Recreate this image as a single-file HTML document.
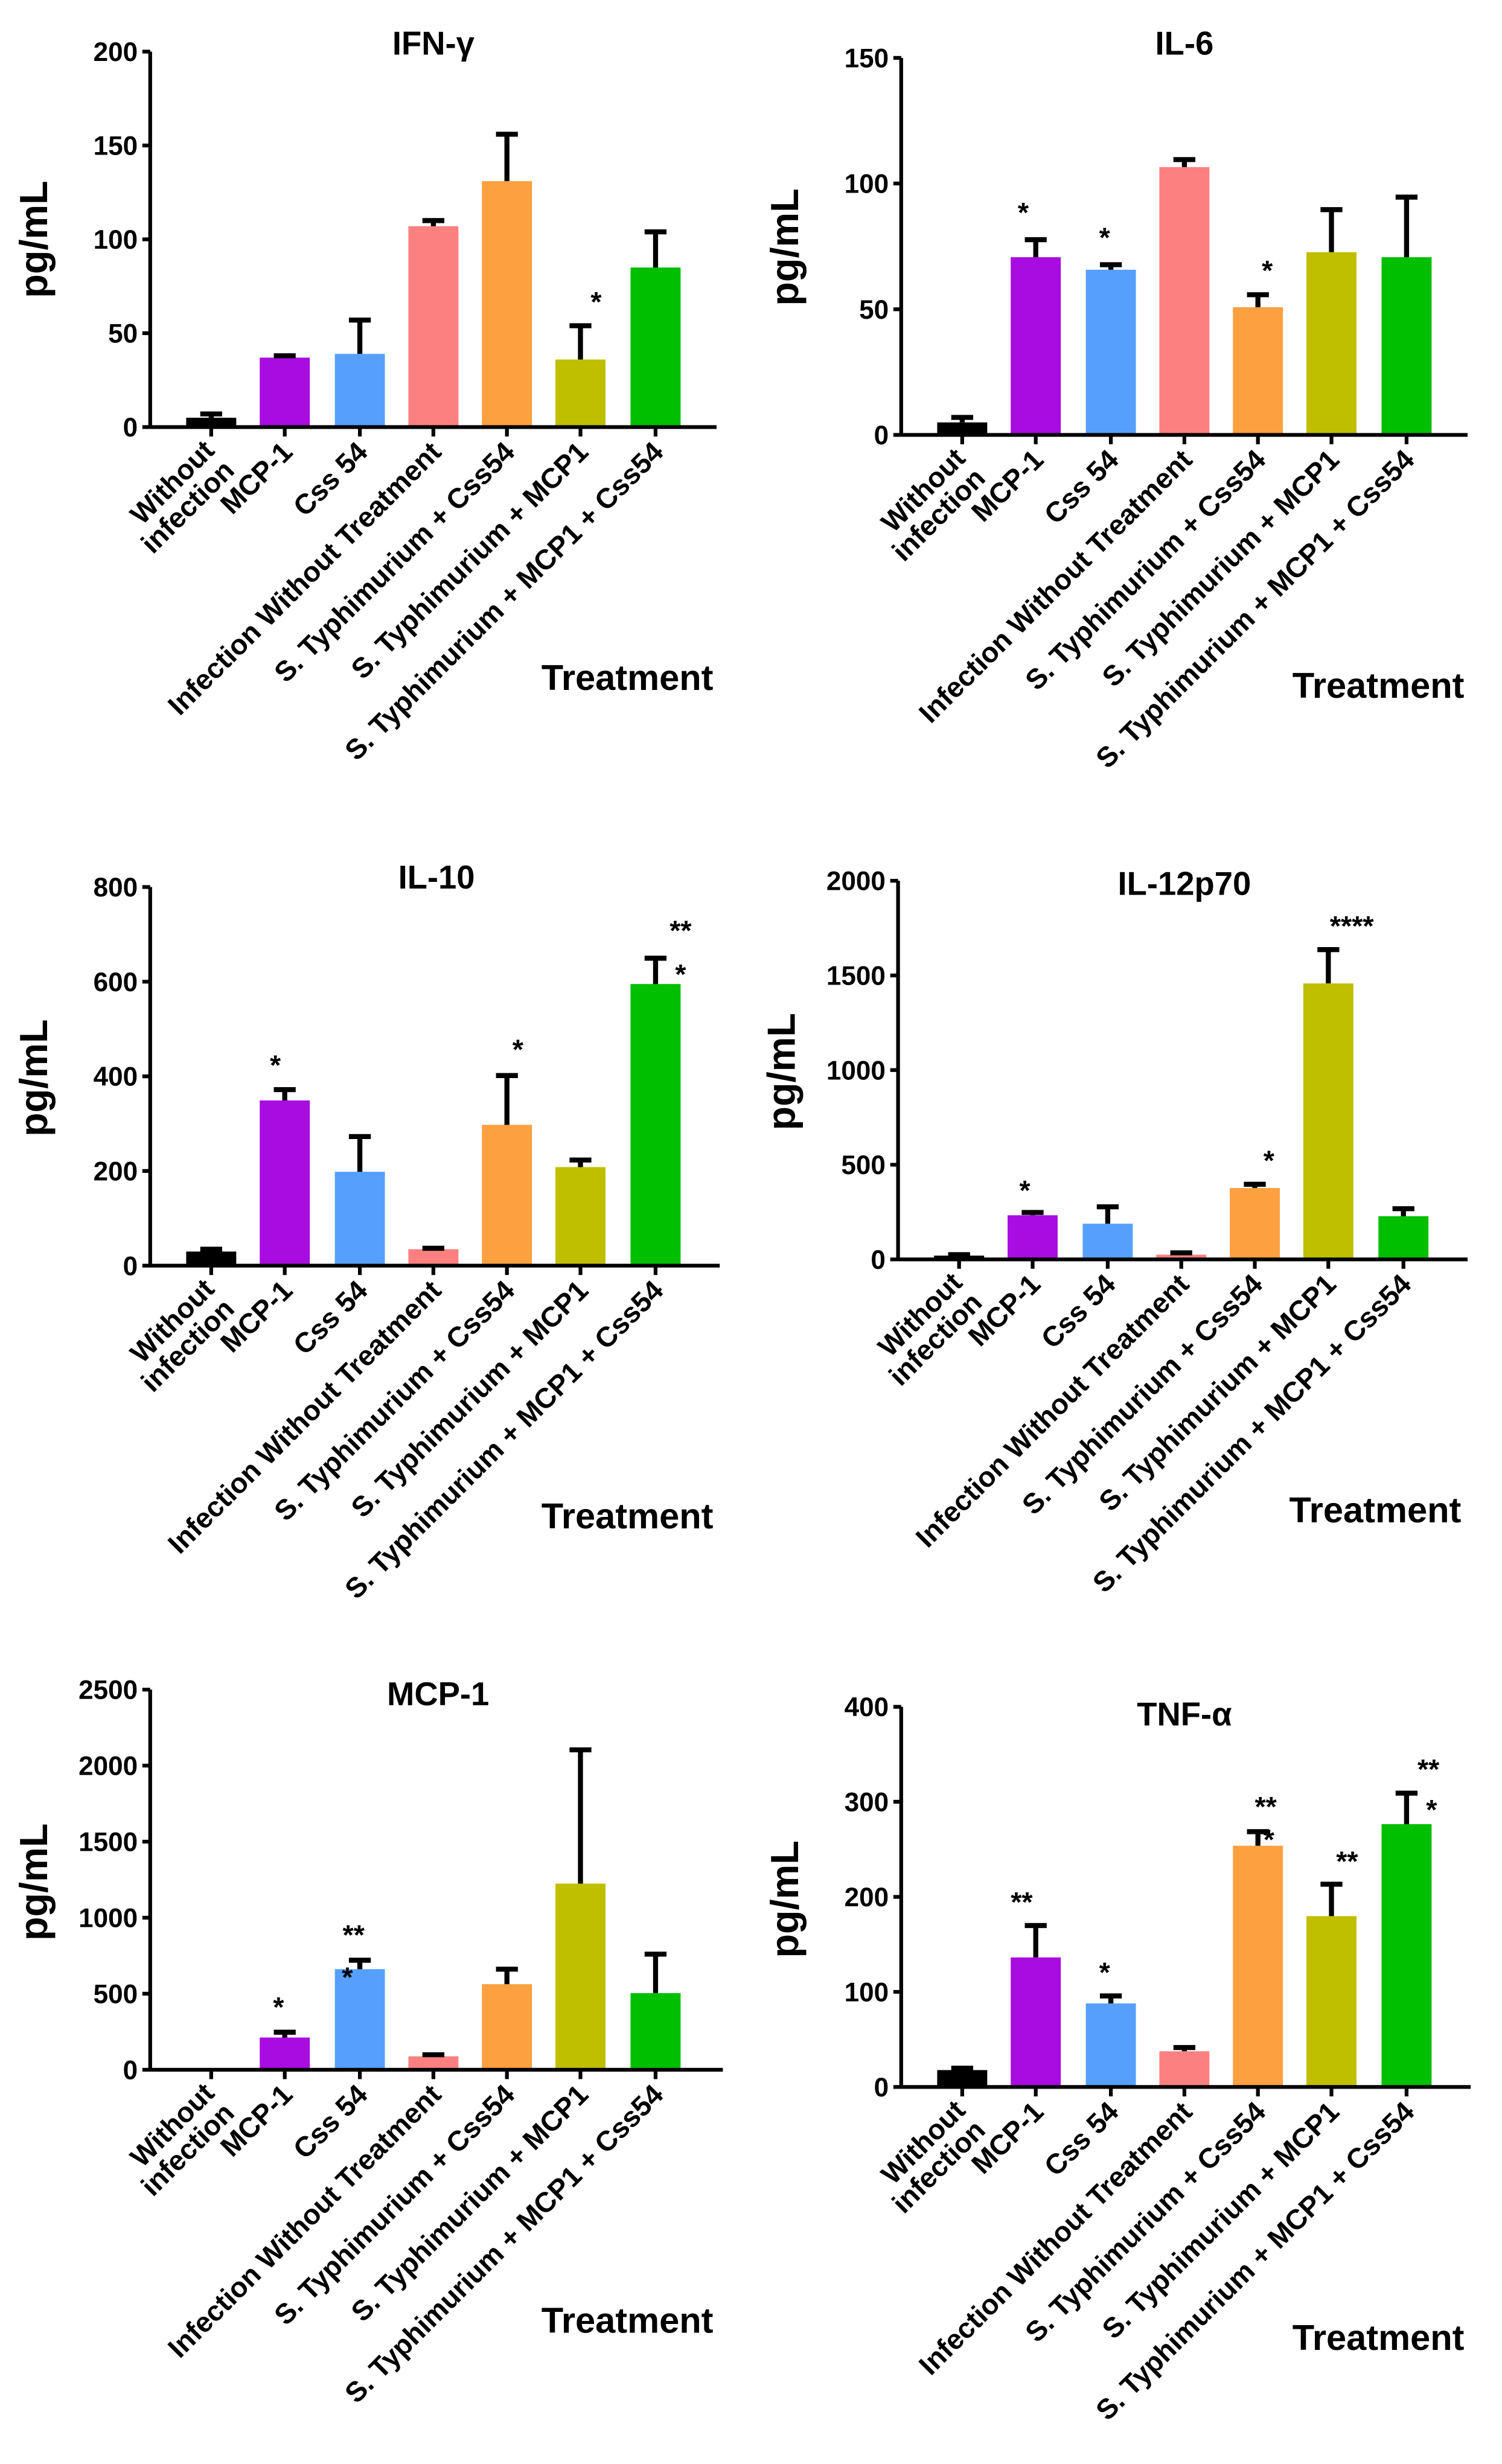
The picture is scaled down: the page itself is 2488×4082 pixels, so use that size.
<!DOCTYPE html>
<html><head><meta charset="utf-8"><style>
html,body{margin:0;padding:0;background:#fff}
svg{display:block}
text{font-family:"Liberation Sans",Arial,sans-serif;font-weight:bold;fill:#000}
.xl{font-size:18px;text-anchor:end}
.yt{font-size:17px;text-anchor:end}
.ti{font-size:21px;text-anchor:middle}
.yl{font-size:25px;text-anchor:middle}
.tr{font-size:23px}
.s{font-size:18px;text-anchor:middle}
.ax{stroke:#000;stroke-width:2.4;fill:none}
.eb{stroke:#000;stroke-width:3.2;fill:none}
</style></head><body>
<svg width="2488" height="4082" viewBox="0 0 960 1575" preserveAspectRatio="none" xmlns="http://www.w3.org/2000/svg">
<defs>
<g id="xlabels">
<text class="xl" transform="translate(42,16) rotate(-45)"><tspan x="0" dy="0">Without</tspan><tspan x="0" dy="18">infection</tspan></text>
<text class="xl" transform="translate(92,17) rotate(-45)">MCP-1</text>
<text class="xl" transform="translate(140,17) rotate(-45)">Css 54</text>
<text class="xl" transform="translate(187,17) rotate(-45)">Infection Without Treatment</text>
<text class="xl" transform="translate(234,17) rotate(-45)">S. Typhimurium + Css54</text>
<text class="xl" transform="translate(281,17) rotate(-45)">S. Typhimurium + MCP1</text>
<text class="xl" transform="translate(329,17) rotate(-45)">S. Typhimurium + MCP1 + Css54</text>
<text class="tr" x="250" y="168">Treatment</text>
<path class="ax" d="M39,0v6M86,0v6M134,0v6M181,0v6M228,0v6M275,0v6M323,0v6"/>
</g>
</defs>

<!-- IFN-gamma -->
<g transform="translate(96,273)">
<rect x="23" y="-6" width="32" height="6" fill="#000"/>
<rect x="70" y="-44.4" width="32" height="44.4" fill="#a90ce0"/>
<rect x="118" y="-46.8" width="32" height="46.8" fill="#56a0fb"/>
<rect x="165" y="-128.4" width="32" height="128.4" fill="#fd8080"/>
<rect x="212" y="-157.2" width="32" height="157.2" fill="#fca040"/>
<rect x="259" y="-43.2" width="32" height="43.2" fill="#bfbf00"/>
<rect x="307" y="-102" width="32" height="102" fill="#00bf00"/>
<path class="eb" d="M39,-6v-2.4M32,-8.4h14M86,-44.4v-1.2M79,-45.6h14M134,-46.8v-21.6M127,-68.4h14M181,-128.4v-3.6M174,-132h14M228,-157.2v-30M221,-187.2h14M275,-43.2v-21.6M268,-64.8h14M323,-102v-22.8M316,-124.8h14"/>
<path class="ax" d="M0,-240V0H362M0,-240h-5M0,-180h-5M0,-120h-5M0,-60h-5M0,0h-5"/>
<text class="yt" x="-8" y="-234">200</text><text class="yt" x="-8" y="-174">150</text><text class="yt" x="-8" y="-114">100</text><text class="yt" x="-8" y="-54">50</text><text class="yt" x="-8" y="6">0</text>
<text class="ti" x="181" y="-238">IFN-γ</text>
<text class="yl" transform="translate(-66,-120) rotate(-90)">pg/mL</text>
<text class="s" x="285" y="-74">*</text>
<use href="#xlabels"/>
</g>

<!-- IL-6 -->
<g transform="translate(576,278)">
<rect x="23" y="-8" width="32" height="8" fill="#000"/>
<rect x="70" y="-113.6" width="32" height="113.6" fill="#a90ce0"/>
<rect x="118" y="-105.6" width="32" height="105.6" fill="#56a0fb"/>
<rect x="165" y="-171.2" width="32" height="171.2" fill="#fd8080"/>
<rect x="212" y="-81.6" width="32" height="81.6" fill="#fca040"/>
<rect x="259" y="-116.8" width="32" height="116.8" fill="#bfbf00"/>
<rect x="307" y="-113.6" width="32" height="113.6" fill="#00bf00"/>
<path class="eb" d="M39,-8v-3.2M32,-11.2h14M86,-113.6v-11.2M79,-124.8h14M134,-105.6v-3.2M127,-108.8h14M181,-171.2v-4.8M174,-176h14M228,-81.6v-8M221,-89.6h14M275,-116.8v-27.2M268,-144h14M323,-113.6v-38.4M316,-152h14"/>
<path class="ax" d="M0,-241V0H362M0,-241h-5M0,-160.7h-5M0,-80.3h-5M0,0h-5"/>
<text class="yt" x="-8" y="-235">150</text><text class="yt" x="-8" y="-154.7">100</text><text class="yt" x="-8" y="-74.3">50</text><text class="yt" x="-8" y="6">0</text>
<text class="ti" x="181" y="-243">IL-6</text>
<text class="yl" transform="translate(-66,-120) rotate(-90)">pg/mL</text>
<text class="s" x="78" y="-136">*</text><text class="s" x="130" y="-120">*</text><text class="s" x="234" y="-99">*</text>
<use href="#xlabels"/>
</g>

<!-- IL-10 -->
<g transform="translate(96,809)">
<rect x="23" y="-9" width="32" height="9" fill="#000"/>
<rect x="70" y="-105.6" width="32" height="105.6" fill="#a90ce0"/>
<rect x="118" y="-60" width="32" height="60" fill="#56a0fb"/>
<rect x="165" y="-10.5" width="32" height="10.5" fill="#fd8080"/>
<rect x="212" y="-90" width="32" height="90" fill="#fca040"/>
<rect x="259" y="-63" width="32" height="63" fill="#bfbf00"/>
<rect x="307" y="-180" width="32" height="180" fill="#00bf00"/>
<path class="eb" d="M39,-9v-1.5M32,-10.5h14M86,-105.6v-6.9M79,-112.5h14M134,-60v-22.5M127,-82.5h14M181,-10.5v-0.6M174,-11.1h14M228,-90v-31.5M221,-121.5h14M275,-63v-4.5M268,-67.5h14M323,-180v-16.5M316,-196.5h14"/>
<path class="ax" d="M0,-242V0H364M0,-242h-5M0,-181.5h-5M0,-121h-5M0,-60.5h-5M0,0h-5"/>
<text class="yt" x="-8" y="-236">800</text><text class="yt" x="-8" y="-175.5">600</text><text class="yt" x="-8" y="-115">400</text><text class="yt" x="-8" y="-54.5">200</text><text class="yt" x="-8" y="6">0</text>
<text class="ti" x="183" y="-241">IL-10</text>
<text class="yl" transform="translate(-66,-120) rotate(-90)">pg/mL</text>
<text class="s" x="80" y="-122">*</text><text class="s" x="235" y="-132">*</text><text class="s" x="339" y="-208">**</text><text class="s" x="339" y="-180">*</text>
<use href="#xlabels"/>
</g>

<!-- IL-12p70 -->
<g transform="translate(574,805)">
<rect x="23" y="-2.4" width="32" height="2.4" fill="#000"/>
<rect x="70" y="-28.2" width="32" height="28.2" fill="#a90ce0"/>
<rect x="118" y="-22.8" width="32" height="22.8" fill="#56a0fb"/>
<rect x="165" y="-3" width="32" height="3" fill="#fd8080"/>
<rect x="212" y="-45.6" width="32" height="45.6" fill="#fca040"/>
<rect x="259" y="-176.4" width="32" height="176.4" fill="#bfbf00"/>
<rect x="307" y="-27.6" width="32" height="27.6" fill="#00bf00"/>
<path class="eb" d="M39,-2.4v-0.6M32,-3h14M86,-28.2v-1.8M79,-30h14M134,-22.8v-10.8M127,-33.6h14M181,-3v-1.2M174,-4.2h14M228,-45.6v-2.4M221,-48h14M275,-176.4v-21.6M268,-198h14M323,-27.6v-4.8M316,-32.4h14"/>
<path class="ax" d="M0,-242V0H364M0,-242h-5M0,-181.5h-5M0,-121h-5M0,-60.5h-5M0,0h-5"/>
<text class="yt" x="-8" y="-236">2000</text><text class="yt" x="-8" y="-175.5">1500</text><text class="yt" x="-8" y="-115">1000</text><text class="yt" x="-8" y="-54.5">500</text><text class="yt" x="-8" y="6">0</text>
<text class="ti" x="183" y="-233">IL-12p70</text>
<text class="yl" transform="translate(-66,-120) rotate(-90)">pg/mL</text>
<text class="s" x="81" y="-38">*</text><text class="s" x="237" y="-57">*</text><text class="s" x="290" y="-207">****</text>
<use href="#xlabels"/>
</g>

<!-- MCP-1 -->
<g transform="translate(96,1323)">
<rect x="23" y="-1" width="32" height="1" fill="#000"/>
<rect x="70" y="-20.6" width="32" height="20.6" fill="#a90ce0"/>
<rect x="118" y="-64.3" width="32" height="64.3" fill="#56a0fb"/>
<rect x="165" y="-8.6" width="32" height="8.6" fill="#fd8080"/>
<rect x="212" y="-54.7" width="32" height="54.7" fill="#fca040"/>
<rect x="259" y="-119" width="32" height="119" fill="#bfbf00"/>
<rect x="307" y="-49" width="32" height="49" fill="#00bf00"/>
<path class="eb" d="M86,-20.6v-3.4M79,-24h14M134,-64.3v-5.7M127,-70h14M181,-8.6v-1M174,-9.6h14M228,-54.7v-9.6M221,-64.3h14M275,-119v-85.5M268,-204.5h14M323,-49v-24.9M316,-73.9h14"/>
<path class="ax" d="M0,-243V0H366M0,-243h-5M0,-194.4h-5M0,-145.8h-5M0,-97.2h-5M0,-48.6h-5M0,0h-5"/>
<text class="yt" x="-8" y="-237">2500</text><text class="yt" x="-8" y="-188.4">2000</text><text class="yt" x="-8" y="-139.8">1500</text><text class="yt" x="-8" y="-91.2">1000</text><text class="yt" x="-8" y="-42.6">500</text><text class="yt" x="-8" y="6">0</text>
<text class="ti" x="184" y="-233">MCP-1</text>
<text class="yl" transform="translate(-66,-120) rotate(-90)">pg/mL</text>
<text class="s" x="82" y="-34">*</text><text class="s" x="130" y="-80">**</text><text class="s" x="126" y="-53">*</text>
<use href="#xlabels"/>
</g>

<!-- TNF-alpha -->
<g transform="translate(576,1334)">
<rect x="23" y="-10.8" width="32" height="10.8" fill="#000"/>
<rect x="70" y="-82.8" width="32" height="82.8" fill="#a90ce0"/>
<rect x="118" y="-53.4" width="32" height="53.4" fill="#56a0fb"/>
<rect x="165" y="-22.8" width="32" height="22.8" fill="#fd8080"/>
<rect x="212" y="-154.2" width="32" height="154.2" fill="#fca040"/>
<rect x="259" y="-109.2" width="32" height="109.2" fill="#bfbf00"/>
<rect x="307" y="-168" width="32" height="168" fill="#00bf00"/>
<path class="eb" d="M39,-10.8v-1.2M32,-12h14M86,-82.8v-20.4M79,-103.2h14M134,-53.4v-4.8M127,-58.2h14M181,-22.8v-2.4M174,-25.2h14M228,-154.2v-9M221,-163.2h14M275,-109.2v-20.4M268,-129.6h14M323,-168v-19.8M316,-187.8h14"/>
<path class="ax" d="M0,-243V0H364M0,-243h-5M0,-182.3h-5M0,-121.5h-5M0,-60.8h-5M0,0h-5"/>
<text class="yt" x="-8" y="-237">400</text><text class="yt" x="-8" y="-176.3">300</text><text class="yt" x="-8" y="-115.5">200</text><text class="yt" x="-8" y="-54.8">100</text><text class="yt" x="-8" y="6">0</text>
<text class="ti" x="181" y="-231">TNF-α</text>
<text class="yl" transform="translate(-66,-120) rotate(-90)">pg/mL</text>
<text class="s" x="77" y="-112">**</text><text class="s" x="130" y="-67">*</text><text class="s" x="233" y="-173">**</text><text class="s" x="235" y="-152">*</text><text class="s" x="285" y="-138">**</text><text class="s" x="337" y="-197">**</text><text class="s" x="339" y="-171">*</text>
<use href="#xlabels"/>
</g>
</svg>
</body></html>
